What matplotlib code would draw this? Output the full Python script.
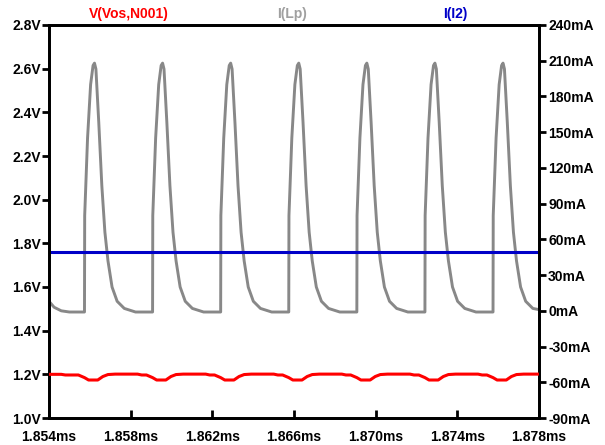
import numpy as np
import matplotlib
matplotlib.use("Agg")
import matplotlib.pyplot as plt

plt.rcParams["font.family"] = ["Liberation Sans", "DejaVu Sans"]
plt.rcParams["font.weight"] = "bold"

# time axis: microseconds after 1.854 ms
t0_ms = 1.854

# I(Lp) in mA
ilp_t_us = [
    0.0, 0.25, 0.6, 1.0,
    1.738, 1.748, 1.888, 2.038, 2.158, 2.228, 2.298, 2.438, 2.588, 2.738, 2.888, 3.088, 3.338, 3.688, 4.238,
    5.073, 5.083, 5.223, 5.373, 5.493, 5.563, 5.633, 5.773, 5.923, 6.073, 6.223, 6.423, 6.673, 7.023, 7.573,
    8.408, 8.418, 8.558, 8.708, 8.828, 8.898, 8.968, 9.108, 9.258, 9.408, 9.558, 9.758, 10.008, 10.358, 10.908,
    11.743, 11.753, 11.893, 12.043, 12.163, 12.233, 12.303, 12.443, 12.593, 12.743, 12.893, 13.093, 13.343, 13.693, 14.243,
    15.078, 15.088, 15.228, 15.378, 15.498, 15.568, 15.638, 15.778, 15.928, 16.078, 16.228, 16.428, 16.678, 17.028, 17.578,
    18.413, 18.423, 18.563, 18.713, 18.833, 18.903, 18.973, 19.113, 19.263, 19.413, 19.563, 19.763, 20.013, 20.363, 20.913,
    21.748, 21.758, 21.898, 22.048, 22.168, 22.238, 22.308, 22.448, 22.598, 22.748, 22.898, 23.098, 23.348, 23.698, 24.0,
]
ilp_ma = [
    8, 3, 0, -1,
    -1, 80, 145, 190, 206, 208, 203, 158, 105, 66, 42, 20, 8, 2, -1,
    -1, 80, 145, 190, 206, 208, 203, 158, 105, 66, 42, 20, 8, 2, -1,
    -1, 80, 145, 190, 206, 208, 203, 158, 105, 66, 42, 20, 8, 2, -1,
    -1, 80, 145, 190, 206, 208, 203, 158, 105, 66, 42, 20, 8, 2, -1,
    -1, 80, 145, 190, 206, 208, 203, 158, 105, 66, 42, 20, 8, 2, -1,
    -1, 80, 145, 190, 206, 208, 203, 158, 105, 66, 42, 20, 8, 2, -1,
    -1, 80, 145, 190, 206, 208, 203, 158, 105, 66, 42, 20, 8, 2, 1,
]

# V(Vos,N001) in V
v_t_us = [
    0.0, 0.6, 0.8,
    1.438, 1.738, 1.938, 2.388, 2.638, 2.888, 3.238, 4.338, 4.538,
    4.773, 5.073, 5.273, 5.723, 5.973, 6.223, 6.573, 7.673, 7.873,
    8.108, 8.408, 8.608, 9.058, 9.308, 9.558, 9.908, 11.008, 11.208,
    11.443, 11.743, 11.943, 12.393, 12.643, 12.893, 13.243, 14.343, 14.543,
    14.778, 15.078, 15.278, 15.728, 15.978, 16.228, 16.578, 17.678, 17.878,
    18.113, 18.413, 18.613, 19.063, 19.313, 19.563, 19.913, 21.013, 21.213,
    21.448, 21.748, 21.948, 22.398, 22.648, 22.898, 23.248, 24.0,
]
v_vos = [
    1.200, 1.200, 1.197,
    1.197, 1.185, 1.174, 1.174, 1.190, 1.199, 1.201, 1.201, 1.197,
    1.197, 1.185, 1.174, 1.174, 1.190, 1.199, 1.201, 1.201, 1.197,
    1.197, 1.185, 1.174, 1.174, 1.190, 1.199, 1.201, 1.201, 1.197,
    1.197, 1.185, 1.174, 1.174, 1.190, 1.199, 1.201, 1.201, 1.197,
    1.197, 1.185, 1.174, 1.174, 1.190, 1.199, 1.201, 1.201, 1.197,
    1.197, 1.185, 1.174, 1.174, 1.190, 1.199, 1.201, 1.201, 1.197,
    1.197, 1.185, 1.174, 1.174, 1.190, 1.199, 1.201, 1.201,
]

# I(I2), constant
i2_t_us = [0.0, 24.0]
i2_ma = [49, 49]

x_ticks_ms = [1.854, 1.858, 1.862, 1.866, 1.870, 1.874, 1.878]
x_tick_labels = ["1.854ms", "1.858ms", "1.862ms", "1.866ms", "1.870ms", "1.874ms", "1.878ms"]
v_ticks = [1.0, 1.2, 1.4, 1.6, 1.8, 2.0, 2.2, 2.4, 2.6, 2.8]
ma_ticks = [-90, -60, -30, 0, 30, 60, 90, 120, 150, 180, 210, 240]

RED = "#ff0000"
GRAY = "#888888"
BLUE = "#0000c8"

fig = plt.figure(figsize=(6.05, 4.45), dpi=100)
ax = fig.add_axes([49 / 605, 1 - 418 / 445, 490 / 605, 393 / 445])
ax2 = ax.twinx()

ilp_t_ms = t0_ms + np.array(ilp_t_us) / 1000
v_t_ms = t0_ms + np.array(v_t_us) / 1000
i2_t_ms = t0_ms + np.array(i2_t_us) / 1000

ax.plot(v_t_ms, v_vos, color=RED, lw=2.2, solid_joinstyle="round", zorder=3)
ax2.plot(ilp_t_ms, ilp_ma, color=GRAY, lw=2.1, solid_joinstyle="round")
ax2.plot(i2_t_ms, i2_ma, color=BLUE, lw=2.2)

ax.set_xlim(1.854, 1.878)
ax.set_ylim(1.0, 2.8)
ax2.set_ylim(-90, 240)

ax.set_xticks(x_ticks_ms)
ax.set_xticklabels(x_tick_labels)
ax.set_yticks(v_ticks)
ax.set_yticklabels([f"{v:.1f}V" for v in v_ticks])
ax2.set_yticks(ma_ticks)
ax2.set_yticklabels([f"{m}mA" for m in ma_ticks])

ax.tick_params(axis="x", direction="in", length=6, width=2, pad=8.5, labelsize=10)
ax.tick_params(axis="y", direction="out", length=5, width=2, pad=1, labelsize=10)
ax2.tick_params(axis="y", direction="out", length=5, width=2, pad=1.5, labelsize=10)

for a in (ax, ax2):
    for s in a.spines.values():
        s.set_linewidth(2)
        s.set_color("black")

ax.set_zorder(ax2.get_zorder() + 1)
ax.patch.set_visible(False)

fig.text(129 / 605, 1 - 14 / 445, "V(Vos,N001)", color=RED, fontsize=10,
         fontweight="bold", ha="center", va="center")
fig.text(292 / 605, 1 - 14 / 445, "I(Lp)", color="#a0a0a0", fontsize=10,
         fontweight="bold", ha="center", va="center")
fig.text(455 / 605, 1 - 14 / 445, "I(I2)", color=BLUE, fontsize=10,
         fontweight="bold", ha="center", va="center")

fig.savefig("out.png", dpi=100)
